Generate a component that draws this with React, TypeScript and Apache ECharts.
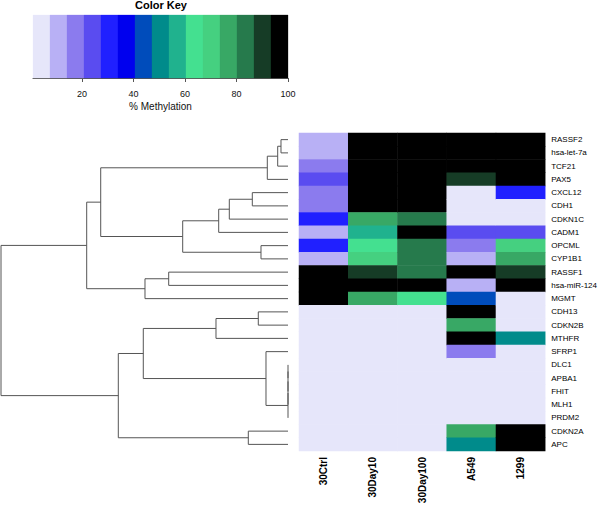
import React, { useEffect, useRef } from 'react';
import * as echarts from 'echarts';

const FONT = 'Liberation Sans, Arial, Helvetica, sans-serif';

const genes = ['RASSF2', 'hsa-let-7a', 'TCF21', 'PAX5', 'CXCL12', 'CDH1', 'CDKN1C', 'CADM1', 'OPCML', 'CYP1B1', 'RASSF1', 'hsa-miR-124', 'MGMT', 'CDH13', 'CDKN2B', 'MTHFR', 'SFRP1', 'DLC1', 'APBA1', 'FHIT', 'MLH1', 'PRDM2', 'CDKN2A', 'APC'];
const samples = ['30Ctrl', '30Day10', '30Day100', 'A549', '1299'];

// % methylation per sample, one value per gene (same order as genes)
const ctrl30 = [11, 11, 18, 24, 18, 18, 31, 11, 31, 11, 98, 98, 98, 3, 3, 3, 3, 3, 3, 3, 3, 3, 3, 3];
const day10 = [98, 98, 98, 98, 98, 98, 77, 57, 64, 70, 90, 98, 77, 3, 3, 3, 3, 3, 3, 3, 3, 3, 3, 3];
const day100 = [98, 98, 98, 98, 98, 98, 83, 98, 83, 83, 83, 98, 64, 3, 3, 3, 3, 3, 3, 3, 3, 3, 3, 3];
const a549 = [98, 98, 98, 90, 3, 3, 3, 24, 18, 11, 98, 11, 44, 98, 77, 98, 18, 3, 3, 3, 3, 3, 77, 50];
const h1299 = [98, 98, 98, 98, 31, 3, 3, 24, 70, 77, 90, 98, 3, 3, 3, 50, 3, 3, 3, 3, 3, 3, 98, 98];
const columns = [ctrl30, day10, day100, a549, h1299];

// colour key
const keyBreaks = [1, 7.6, 14.2, 20.8, 27.4, 34, 40.6, 47.2, 53.8, 60.4, 67, 73.6, 80.2, 86.8, 93.4, 100];
const keyColors = ['#E6E6FA', '#B8B0F5', '#8B7BEE', '#5A4CF0', '#2020FF', '#0000EE', '#004CBB', '#008B8B', '#20B28E', '#44E090', '#45D080', '#38A865', '#267A4C', '#163C26', '#000000'];
const keyTicks = [20, 40, 60, 80, 100];

// row dendrogram (hclust style: negative = leaf (1-based), positive = earlier merge)
const mergeLeft = [-1, 1, 2, -5, 4, 5, -9, 6, 3, -11, 10, 9, -14, 13, -18, 15, 16, 17, -17, 14, -23, 20, 12];
const mergeRight = [-2, -3, -4, -6, -7, -8, -10, 7, 8, -12, -13, 11, -15, -16, -19, -20, -21, -22, 18, 19, -24, 21, 22];
const mergeHeight = [2.44, 3.59, 7.21, 12.44, 20.45, 24.15, 9.41, 36.69, 65.26, 41.57, 49.83, 70.14, 10.35, 25.09, 0, 0, 0, 0, 7.67, 50.42, 13.83, 59.13, 100];

export default function App() {
  const ref = useRef<HTMLDivElement>(null);

  useEffect(() => {
    if (!ref.current) return;
    const chart = echarts.init(ref.current, undefined, { renderer: 'svg' });

    const heatData: number[][] = [];
    columns.forEach((col, c) => col.forEach((v, r) => heatData.push([c, r, v])));

    const nodeY: number[] = [];
    const nodeH: number[] = [];
    const dendroData: number[][] = [];
    const pos = (id: number) => (id < 0 ? [-id - 1, 0] : [nodeY[id - 1], nodeH[id - 1]]);
    mergeLeft.forEach((l, i) => {
      const [yl, hl] = pos(l);
      const [yr, hr] = pos(mergeRight[i]);
      nodeY[i] = (yl + yr) / 2;
      nodeH[i] = mergeHeight[i];
      dendroData.push([yl, hl, yr, hr, mergeHeight[i]]);
    });

    const keyData = keyColors.map((_, i) => [keyBreaks[i], keyBreaks[i + 1]]);

    chart.setOption({
      animation: false,
      textStyle: { fontFamily: FONT },
      graphic: [
        {
          type: 'text',
          x: 161,
          y: 5,
          style: { text: 'Color Key', fontSize: 11, fontWeight: 'bold', fontFamily: FONT, fill: '#000', textAlign: 'center', textVerticalAlign: 'middle' },
        },
      ],
      grid: [
        { left: 299, top: 133, width: 249, height: 318 },
        { left: 1, top: 133, width: 287, height: 318 },
        { left: 33, top: 15, width: 255, height: 63 },
      ],
      xAxis: [
        {
          gridIndex: 0,
          type: 'category',
          data: samples,
          position: 'bottom',
          axisLine: { show: false },
          axisTick: { show: false },
          axisLabel: { rotate: 90, fontSize: 10, fontWeight: 'bold', color: '#000', margin: 6, fontFamily: FONT },
        },
        { gridIndex: 1, type: 'value', min: 0, max: 100, inverse: true, show: false },
        {
          gridIndex: 2,
          type: 'value',
          min: 1,
          max: 100,
          splitLine: { show: false },
          axisLine: { show: true, lineStyle: { color: '#555', width: 1 } },
          axisTick: { show: true, customValues: keyTicks, length: 4, lineStyle: { color: '#555' } },
          axisLabel: { customValues: keyTicks, fontSize: 9, color: '#111', margin: 11, fontFamily: FONT },
          name: '% Methylation',
          nameLocation: 'middle',
          nameGap: 23,
          nameTextStyle: { fontSize: 10, color: '#111', fontFamily: FONT },
        },
      ],
      yAxis: [
        {
          gridIndex: 0,
          type: 'category',
          data: genes,
          inverse: true,
          position: 'right',
          axisLine: { show: false },
          axisTick: { show: false },
          axisLabel: { fontSize: 8, color: '#000', margin: 6, fontFamily: FONT },
        },
        { gridIndex: 1, type: 'value', min: -0.5, max: genes.length - 0.5, inverse: true, show: false },
        { gridIndex: 2, type: 'value', min: 0, max: 1, show: false },
      ],
      visualMap: {
        type: 'piecewise',
        show: false,
        seriesIndex: 0,
        dimension: 2,
        pieces: keyColors.map((c, i) => (i === keyColors.length - 1 ? { gte: keyBreaks[i], lte: keyBreaks[i + 1], color: c } : { gte: keyBreaks[i], lt: keyBreaks[i + 1], color: c })),
      },
      series: [
        {
          type: 'heatmap',
          xAxisIndex: 0,
          yAxisIndex: 0,
          data: heatData,
          itemStyle: { borderWidth: 0 },
          emphasis: { disabled: true },
        },
        {
          type: 'custom',
          xAxisIndex: 1,
          yAxisIndex: 1,
          data: dendroData,
          encode: { x: [1, 3, 4], y: [0, 2] },
          clip: false,
          renderItem: (params: any, api: any) => {
            const yl = api.value(0), hl = api.value(1), yr = api.value(2), hr = api.value(3), h = api.value(4);
            const pts = [api.coord([hl, yl]), api.coord([h, yl]), api.coord([h, yr]), api.coord([hr, yr])];
            return {
              type: 'polyline',
              shape: { points: pts },
              style: { stroke: '#555', lineWidth: 1, fill: null },
            };
          },
        },
        {
          type: 'custom',
          xAxisIndex: 2,
          yAxisIndex: 2,
          data: keyData,
          encode: { x: [0, 1] },
          renderItem: (params: any, api: any) => {
            const p0 = api.coord([api.value(0), 1]);
            const p1 = api.coord([api.value(1), 0]);
            const col = keyColors[params.dataIndex];
            return {
              type: 'rect',
              shape: { x: p0[0], y: p0[1], width: p1[0] - p0[0], height: p1[1] - p0[1] },
              style: { fill: col, stroke: col, lineWidth: 0.3 },
            };
          },
        },
      ],
    });

    return () => chart.dispose();
  }, []);

  return <div ref={ref} style={{ position: 'absolute', left: 0, top: 0, width: 600, height: 507 }} />;
}
